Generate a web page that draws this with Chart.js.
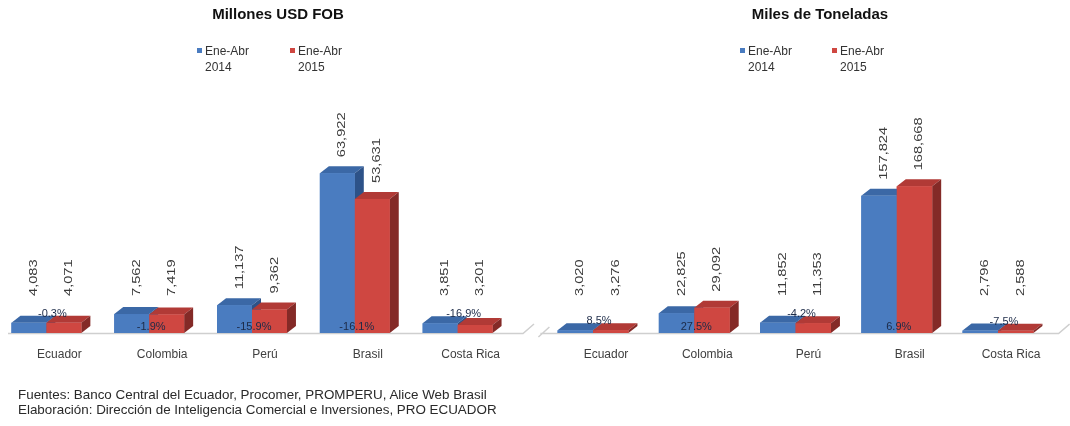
<!DOCTYPE html>
<html lang="es">
<head>
<meta charset="utf-8">
<title>Exportaciones Ene-Abr 2014-2015</title>
<script src="https://cdn.jsdelivr.net/npm/chart.js@4.4.1/dist/chart.umd.min.js"></script>
<style>
  html, body { margin: 0; padding: 0; background: #ffffff; }
  body { width: 1070px; height: 426px; position: relative; overflow: hidden; font-family: "Liberation Sans", Arial, sans-serif; }
  .wrap { position: absolute; top: 0; height: 426px; }
  #wrapUsd { left: -10px; width: 545px; }
  #wrapTon { left: 535px; width: 535px; }
  .note { position: absolute; left: 18px; top: 387px; font-size: 13.4px; line-height: 15px; color: #2a2a2a; white-space: nowrap; }
</style>
</head>
<body>
<div class="wrap" id="wrapUsd"><canvas id="chartUsd" width="545" height="426"></canvas></div>
<div class="wrap" id="wrapTon"><canvas id="chartTon" width="535" height="426"></canvas></div>
<div class="note">Fuentes: Banco Central del Ecuador, Procomer, PROMPERU, Alice Web Brasil<br>Elaboración: Dirección de Inteligencia Comercial e Inversiones, PRO ECUADOR</div>

<script>
// Categories and series
const categories = ['Ecuador', 'Colombia', 'Perú', 'Brasil', 'Costa Rica'];
const seriesLabels = [['Ene-Abr', '2014'], ['Ene-Abr', '2015']];

// Millones USD FOB
const usd2014 = [4083, 7562, 11137, 63922, 3851];
const usd2015 = [4071, 7419, 9362, 53631, 3201];
const usdChange = [-0.3, -1.9, -15.9, -16.1, -16.9];

// Miles de Toneladas
const ton2014 = [3020, 22825, 11852, 157824, 2796];
const ton2015 = [3276, 29092, 11353, 168668, 2588];
const tonChange = [8.5, 27.5, -4.2, 6.9, -7.5];

const FONT = '"Liberation Sans", Arial, sans-serif';
Chart.defaults.font.family = FONT;
Chart.defaults.animation = false;

const BLUE = { front: '#4a7cc0', top: '#3b68a6', side: '#2d5288' };
const RED = { front: '#cf4741', top: '#b13a36', side: '#842a27' };

const fmt = v => v.toLocaleString('en-US');
const fmtPct = v => v.toFixed(1) + '%';

// Draws the floor edge, the 3D faces of each bar, and the value / change labels
const bars3d = {
  id: 'bars3d',
  beforeDatasetsDraw(chart, args, o) {
    const ctx = chart.ctx;
    const base = chart.scales.y.getPixelForValue(0);
    const a = chart.chartArea;
    ctx.save();
    ctx.strokeStyle = '#cfcfcf';
    ctx.lineWidth = 1.5;
    ctx.beginPath();
    if (o.floorSlashLeft) {
      ctx.moveTo(a.left + o.floorFrom - 2, base + 4);
      ctx.lineTo(a.left + o.floorFrom + o.dx, base - o.dy + 1);
    }
    ctx.moveTo(a.left + o.floorFrom, base + 0.5);
    ctx.lineTo(a.right + o.floorTo, base + 0.5);
    ctx.lineTo(a.right + o.floorTo + o.dx + 2, base - o.dy - 2);
    ctx.stroke();
    ctx.restore();
  },
  afterDatasetsDraw(chart, args, o) {
    const ctx = chart.ctx;
    const base = chart.scales.y.getPixelForValue(0);
    const metas = [chart.getDatasetMeta(0), chart.getDatasetMeta(1)];
    const faces = [BLUE, RED];
    const { dx, dy } = o;
    ctx.save();
    for (let i = 0; i < metas[0].data.length; i++) {
      metas.forEach((meta, d) => {
        const p = meta.data[i].getProps(['x', 'y', 'width'], true);
        const l = p.x - p.width / 2, r = p.x + p.width / 2, t = p.y;
        const c = faces[d];
        // top face
        ctx.fillStyle = c.top;
        ctx.beginPath();
        ctx.moveTo(l, t); ctx.lineTo(r, t); ctx.lineTo(r + dx, t - dy); ctx.lineTo(l + dx, t - dy);
        ctx.closePath(); ctx.fill();
        // side face
        ctx.fillStyle = c.side;
        ctx.beginPath();
        ctx.moveTo(r, t); ctx.lineTo(r + dx, t - dy); ctx.lineTo(r + dx, base - dy); ctx.lineTo(r, base);
        ctx.closePath(); ctx.fill();
        // front face
        ctx.fillStyle = c.front;
        ctx.fillRect(l, t, r - l, base - t);
      });
    }
    // rotated value labels, drawn slightly elongated along their reading direction
    ctx.font = '11px ' + FONT;
    ctx.fillStyle = '#3a3a3a';
    ctx.textAlign = 'left';
    ctx.textBaseline = 'middle';
    metas.forEach((meta, d) => {
      const values = chart.data.datasets[d].data;
      meta.data.forEach((bar, i) => {
        const p = bar.getProps(['x', 'y'], true);
        const yStart = Math.min(p.y - 16, base - 37);
        ctx.save();
        ctx.translate(p.x + 5, yStart);
        ctx.rotate(-Math.PI / 2);
        ctx.scale(1.33, 1);
        ctx.fillText(fmt(values[i]), 0, 0);
        ctx.restore();
      });
    });
    // change labels
    const change = o.change;
    ctx.textAlign = 'center';
    ctx.fillStyle = '#1c2a47';
    metas[0].data.forEach((bar, i) => {
      const b0 = bar.getProps(['x', 'y', 'width'], true);
      const b1 = metas[1].data[i].getProps(['x', 'y'], true);
      const top = Math.min(b0.y, b1.y);
      const cx = (b0.x + b1.x) / 2;
      let y, x;
      if (base - top >= 15) { y = base - 6; x = cx + 2; }
      else { y = top - dy - 2; x = cx + 6; }
      ctx.fillText(fmtPct(change[i]), x, y);
    });
    ctx.restore();
  }
};

// Title and two-line legend
const deco = {
  id: 'deco',
  afterDraw(chart, args, o) {
    const ctx = chart.ctx;
    ctx.save();
    ctx.font = 'bold 15px ' + FONT;
    ctx.fillStyle = '#111';
    ctx.textAlign = 'center';
    ctx.textBaseline = 'middle';
    ctx.fillText(o.title, o.titleX, 15);
    ctx.font = '12px ' + FONT;
    ctx.textAlign = 'left';
    chart.data.datasets.forEach((ds, d) => {
      const x = o.legendX[d];
      ctx.fillStyle = ds.backgroundColor;
      ctx.fillRect(x, 48, 5, 5);
      ctx.fillStyle = '#333';
      ds.label.forEach((line, k) => ctx.fillText(line, x + 8, 52 + k * 16));
    });
    ctx.restore();
  }
};

function makeChart(id, a, b, change, yMax, catPct, pad, decoOpts) {
  return new Chart(document.getElementById(id), {
    type: 'bar',
    data: {
      labels: categories,
      datasets: [
        { label: seriesLabels[0], data: a, backgroundColor: BLUE.front, borderWidth: 0 },
        { label: seriesLabels[1], data: b, backgroundColor: RED.front, borderWidth: 0 }
      ]
    },
    options: {
      responsive: false,
      maintainAspectRatio: false,
      layout: { padding: { left: pad.left, right: pad.right, top: 133, bottom: 63 } },
      datasets: { bar: { barPercentage: 1.0, categoryPercentage: catPct } },
      scales: {
        x: {
          grid: { display: false, drawTicks: false },
          border: { display: false },
          ticks: { color: '#404040', font: { size: 12 }, padding: 14, labelOffset: 13, maxRotation: 0, autoSkip: false },
          afterFit(s) { s.height = 30; }
        },
        y: { display: false, min: 0, max: yMax }
      },
      plugins: {
        legend: { display: false },
        tooltip: { enabled: false },
        title: { display: false },
        bars3d: { dx: 9, dy: 7, change: change, floorFrom: pad.floorFrom, floorTo: pad.floorTo, floorSlashLeft: pad.slash },
        deco: decoOpts
      }
    },
    plugins: [bars3d, deco]
  });
}

makeChart('chartUsd', usd2014, usd2015, usdChange, 80000, 0.68,
  { left: 5, right: 26, floorFrom: 13, floorTo: 14, slash: false },
  { title: 'Millones USD FOB', titleX: 288, legendX: [207, 300] });

makeChart('chartTon', ton2014, ton2015, tonChange, 230000, 0.70,
  { left: 7.4, right: 21.4, floorFrom: -2, floorTo: 10, slash: true },
  { title: 'Miles de Toneladas', titleX: 285, legendX: [205, 297] });
</script>
</body>
</html>
